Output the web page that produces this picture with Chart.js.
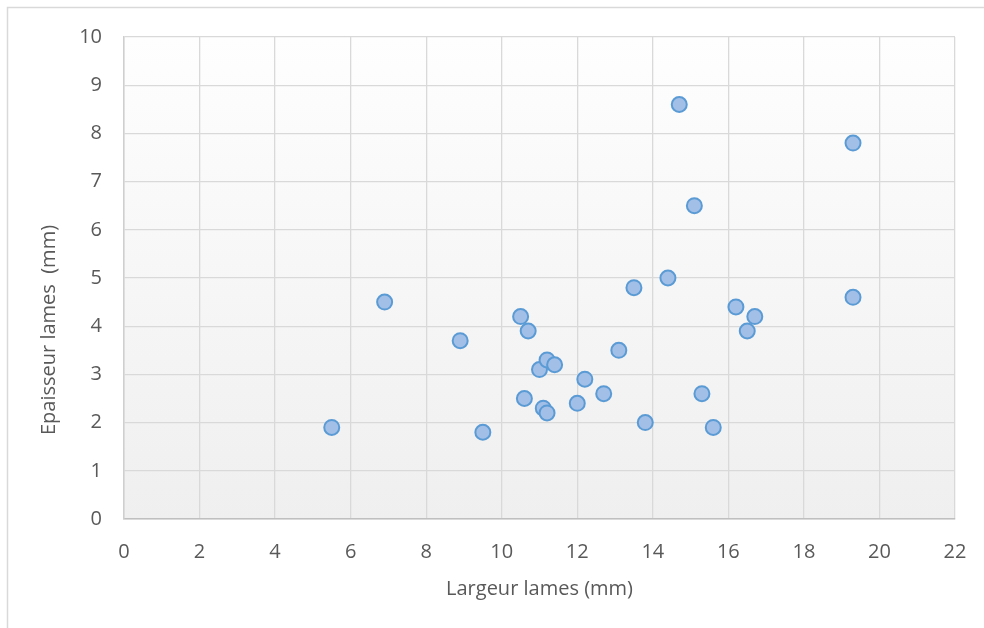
<!DOCTYPE html>
<html>
<head>
<meta charset="utf-8">
<script src="https://cdn.jsdelivr.net/npm/chart.js@4/dist/chart.umd.min.js"></script>
<style>
  html, body { margin: 0; padding: 0; background: #ffffff; }
  #wrap { position: relative; width: 984px; height: 628px; }
  canvas { display: block; }
</style>
</head>
<body>
<div id="wrap"><canvas id="c" width="984" height="628"></canvas></div>
<script>
// ---- Data ----
const largeurLames = [5.5, 6.9, 8.9, 9.5, 10.5, 10.7, 10.6, 11.0, 11.2, 11.4, 11.1, 11.2, 12.0, 12.2, 12.7, 13.1, 13.5, 13.8, 14.4, 14.7, 15.1, 15.3, 15.6, 16.2, 16.5, 16.7, 19.3, 19.3];
const epaisseurLames = [1.9, 4.5, 3.7, 1.8, 4.2, 3.9, 2.5, 3.1, 3.3, 3.2, 2.3, 2.2, 2.4, 2.9, 2.6, 3.5, 4.8, 2.0, 5.0, 8.6, 6.5, 2.6, 1.9, 4.4, 3.9, 4.2, 7.8, 4.6];
const xTitle = 'Largeur lames (mm)';
const yTitle = 'Epaisseur lames  (mm)';
const xRange = [0, 22];
const yRange = [0, 10];

const points = largeurLames.map((x, i) => ({ x: x, y: epaisseurLames[i] }));

const FONT = "'Open Sans', 'Liberation Sans', sans-serif";
const TEXT = '#595959';

const decorPlugin = {
  id: 'decor',
  beforeDraw(chart) {
    const { ctx, chartArea: a } = chart;
    ctx.save();
    // outer chart border (left and top visible)
    ctx.strokeStyle = '#d9d9d9';
    ctx.lineWidth = 1.5;
    ctx.beginPath();
    ctx.moveTo(7.5, 628);
    ctx.lineTo(7.5, 7.5);
    ctx.lineTo(984, 7.5);
    ctx.stroke();
    // plot area gradient
    const g = ctx.createLinearGradient(0, a.top, 0, a.bottom);
    g.addColorStop(0, '#fefefe');
    g.addColorStop(1, '#efefef');
    ctx.fillStyle = g;
    ctx.fillRect(a.left, a.top, a.right - a.left, a.bottom - a.top);
    ctx.restore();
  },
  afterDraw(chart) {
    const { ctx } = chart;
    ctx.save();
    ctx.fillStyle = TEXT;
    ctx.font = "20px " + FONT;
    ctx.textAlign = 'center';
    ctx.textBaseline = 'alphabetic';
    ctx.translate(55, 330);
    ctx.rotate(-Math.PI / 2);
    ctx.fillText(yTitle, 0, 0);
    ctx.restore();
  }
};

new Chart(document.getElementById('c'), {
  type: 'scatter',
  data: {
    datasets: [{
      data: points,
      pointRadius: 7.5,
      pointHoverRadius: 7.5,
      pointBackgroundColor: '#a2bfe7',
      pointBorderColor: '#5b9bd5',
      pointBorderWidth: 2
    }]
  },
  options: {
    responsive: false,
    animation: false,
    devicePixelRatio: 1,
    layout: { padding: { top: 37, right: 29, left: 0, bottom: 0 } },
    plugins: {
      legend: { display: false },
      tooltip: { enabled: false }
    },
    scales: {
      x: {
        type: 'linear',
        min: xRange[0],
        max: xRange[1],
        afterFit: (s) => { s.height = 109; s.paddingLeft = 0; s.paddingRight = 0; },
        grid: { color: '#d9d9d9', lineWidth: 1.3, drawTicks: false },
        border: { color: '#bfbfbf', width: 1.5 },
        ticks: { stepSize: 2, padding: 21, color: TEXT, font: { family: FONT, size: 20 } },
        title: { display: true, text: xTitle, color: TEXT, font: { family: FONT, size: 20 }, padding: { top: 0, bottom: 27 } }
      },
      y: {
        type: 'linear',
        min: yRange[0],
        max: yRange[1],
        afterFit: (s) => { s.width = 124; s.paddingTop = 0; s.paddingBottom = 0; },
        grid: { color: '#d9d9d9', lineWidth: 1.3, drawTicks: false },
        border: { color: '#cfcfcf', width: 1.5 },
        ticks: { stepSize: 1, padding: 22, color: TEXT, font: { family: FONT, size: 20 } }
      }
    }
  },
  plugins: [decorPlugin]
});
</script>
</body>
</html>
